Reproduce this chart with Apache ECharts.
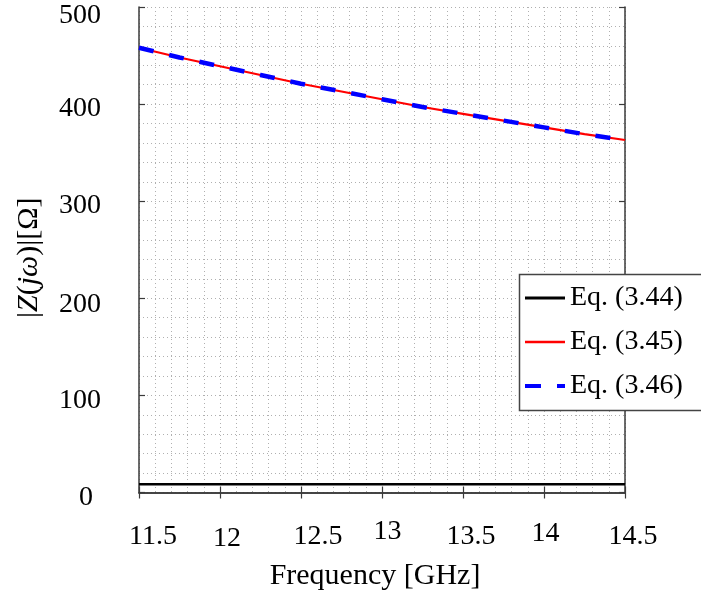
<!DOCTYPE html>
<html>
<head>
<meta charset="utf-8">
<script src="https://cdn.jsdelivr.net/npm/echarts@6/dist/echarts.min.js"></script>
<style>
html,body{margin:0;padding:0;background:#fff;}
#chart{width:701px;height:598px;}
</style>
</head>
<body>
<div id="chart"></div>
<script>
// ---- data ----
const freq   = [11.5, 11.75, 12, 12.25, 12.5, 12.75, 13, 13.25, 13.5, 13.75, 14, 14.25, 14.5];
const eq344  = [8.5, 8.5, 8.5, 8.5, 8.5, 8.5, 8.5, 8.5, 8.5, 8.5, 8.5, 8.5, 8.5];
const eq345  = [458, 448, 439, 430, 421, 413, 405, 397, 390, 383, 376, 369, 363];
const eq346  = [458, 448, 439, 430, 421, 413, 405, 397, 390, 383, 376, 369, 363];
const seriesNames = ['Eq. (3.44)', 'Eq. (3.45)', 'Eq. (3.46)'];
const xTickLabels = ['11.5', '12', '12.5', '13', '13.5', '14', '14.5'];
const yTickLabels = ['0', '100', '200', '300', '400', '500'];
const xName = 'Frequency [GHz]';

// ---- styling ----
const FONT = '"Liberation Serif", "Times New Roman", serif';
const FS = 28;
const AXIS_COLOR = '#3a3a3a';
const GRID_COLOR = '#b0b0b0';

// per-label offsets to mimic the reference placement
const xPad = [[5,0,0,28],[7,0,0,14],[5,0,0,34],[0,0,0,11],[5,0,0,16],[2,0,0,3],[5,0,0,16]];
const yPad = [[10,8,0,0],[10,0,0,0],[12,0,0,0],[8,0,0,0],[10,0,0,0],[18,0,0,0]];

const xRich = {}; xTickLabels.forEach((t,i)=>{ xRich['x'+i] = {fontSize:FS, fontFamily:FONT, color:'#000', padding:xPad[i]}; });
const yRich = {}; yTickLabels.forEach((t,i)=>{ yRich['y'+i] = {fontSize:FS, fontFamily:FONT, color:'#000', padding:yPad[i]}; });

const legendLine = [
  {color: '#000', width: 3},
  {color: '#ff0000', width: 2.3},
  {color: '#0000ff', width: 4, type: [16,16]}
];

const mk = (xs, ys) => xs.map((x,i)=>[x, ys[i]]);

const chart = echarts.init(document.getElementById('chart'), null, {renderer:'canvas'});
const option = {
  backgroundColor: '#fff',
  animation: false,
  grid: {left:139, right:76, top:7, bottom:105.5, containLabel:false},
  legend: {
    left: 519, top: 274, orient: 'vertical', z: 20,
    padding: [8, 10, 8, 4],
    itemWidth: 40, itemHeight: 14, itemGap: 12,
    borderWidth: 0,
    itemStyle: {opacity: 0},
    textStyle: {fontSize: FS, fontFamily: FONT, color: '#000', lineHeight: 32},
    data: seriesNames.map((n,i)=>({name: n, lineStyle: legendLine[i]}))
  },
  xAxis: [{
    type: 'value', min: 11.5, max: 14.5, interval: 0.5,
    position: 'bottom',
    name: xName, nameLocation: 'middle', nameGap: 69,
    nameTextStyle: {fontSize: 30, fontFamily: FONT, color: '#000', padding: [0,14,0,0]},
    axisLine: {show: true, lineStyle: {color: AXIS_COLOR, width: 1.5}},
    axisTick: {show: true, inside: true, length: 6, lineStyle: {color: AXIS_COLOR, width: 1.2}},
    minorTick: {show: false, splitNumber: 5},
    axisLabel: {
      margin: 25, showMinLabel: true, showMaxLabel: true, hideOverlap: false,
      formatter: function(v){ const i = Math.round((v-11.5)/0.5); return '{x'+i+'|'+xTickLabels[i]+'}'; },
      rich: xRich
    },
    splitLine: {show: true, lineStyle: {color: GRID_COLOR, type: [1,3], width: 1}},
    minorSplitLine: {show: true, lineStyle: {color: GRID_COLOR, type: [1,3], width: 1}}
  }, {
    type: 'value', min: 11.5, max: 14.5, interval: 0.5, position: 'top',
    axisLine: {show: true, lineStyle: {color: AXIS_COLOR, width: 1.5}},
    axisTick: {show: true, inside: true, length: 6, lineStyle: {color: AXIS_COLOR, width: 1.2}},
    axisLabel: {show: false}, splitLine: {show: false}
  }],
  yAxis: [{
    type: 'value', min: 0, max: 500, interval: 100,
    position: 'left',
    axisLine: {show: true, lineStyle: {color: AXIS_COLOR, width: 1.5}},
    axisTick: {show: true, inside: true, length: 6, lineStyle: {color: AXIS_COLOR, width: 1.2}},
    minorTick: {show: false, splitNumber: 5},
    axisLabel: {
      margin: 38, showMinLabel: true, showMaxLabel: true,
      formatter: function(v){ const i = Math.round(v/100); return '{y'+i+'|'+yTickLabels[i]+'}'; },
      rich: yRich
    },
    splitLine: {show: true, lineStyle: {color: GRID_COLOR, type: [1,3], width: 1}},
    minorSplitLine: {show: true, lineStyle: {color: GRID_COLOR, type: [1,3], width: 1}}
  }, {
    type: 'value', min: 0, max: 500, interval: 100, position: 'right',
    axisLine: {show: true, lineStyle: {color: AXIS_COLOR, width: 1.5}},
    axisTick: {show: true, inside: true, length: 6, lineStyle: {color: AXIS_COLOR, width: 1.2}},
    axisLabel: {show: false}, splitLine: {show: false}
  }],
  graphic: [{
    type: 'text',
    x: 14, y: 318,
    rotation: Math.PI/2,
    style: {
      text: '{n||}{i|Z}{n|(}{i|jω}{n|)|[Ω]}',
      rich: {
        n: {fontSize: 30, fontFamily: FONT, fill: '#000', color:'#000'},
        i: {fontSize: 30, fontFamily: FONT, fontStyle: 'italic', fill: '#000', color:'#000'}
      }
    }
  }, {
    type: 'rect',
    z: 10,
    shape: {x: 519.5, y: 274.5, width: 220, height: 136},
    style: {fill: '#fff', stroke: '#444', lineWidth: 1.5}
  }],
  series: [{
    name: seriesNames[0], type: 'line', data: mk(freq, eq344), showSymbol: false, symbol: 'none',
    lineStyle: {color: '#000', width: 2.5}, itemStyle: {color: '#000'}, z: 3
  }, {
    name: seriesNames[1], type: 'line', data: mk(freq, eq345), showSymbol: false, symbol: 'none',
    lineStyle: {color: '#ff0000', width: 2.2}, itemStyle: {color: '#ff0000'}, z: 4
  }, {
    name: seriesNames[2], type: 'line', data: mk(freq, eq346), showSymbol: false, symbol: 'none',
    lineStyle: {color: '#0000ff', width: 4.5, type: [15,16]}, itemStyle: {color: '#0000ff'}, z: 5
  }]
};
chart.setOption(option);
</script>
</body>
</html>
